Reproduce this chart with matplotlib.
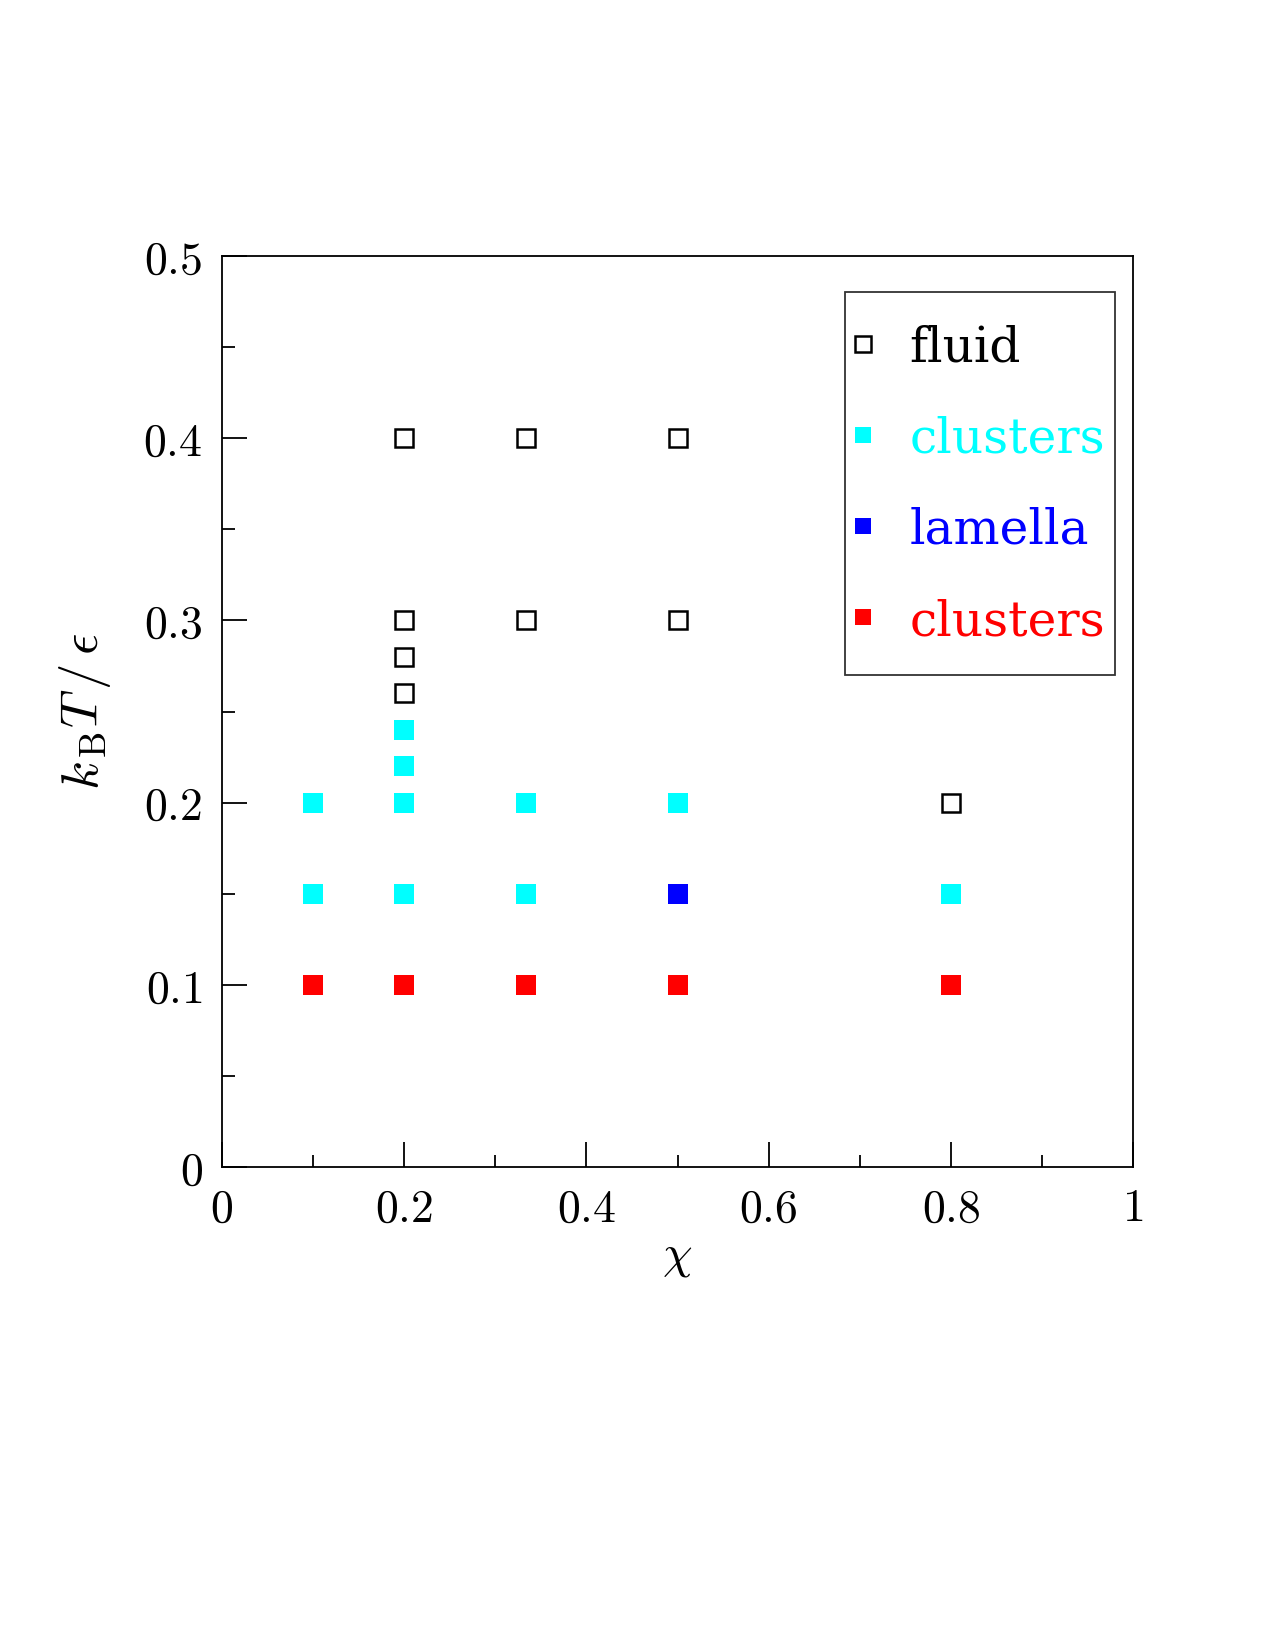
import numpy as np
import matplotlib
matplotlib.use("Agg")
import matplotlib.pyplot as plt
from matplotlib.lines import Line2D
from matplotlib.legend_handler import HandlerLine2D

plt.rcParams['mathtext.fontset'] = 'cm'

fluid_x = [0.2, 1/3, 0.5, 0.2, 1/3, 0.5, 0.2, 0.2, 0.8]
fluid_y = [0.4, 0.4, 0.4, 0.3, 0.3, 0.3, 0.28, 0.26, 0.2]
cyan_x = [0.2, 0.2, 0.1, 0.2, 1/3, 0.5, 0.1, 0.2, 1/3, 0.8]
cyan_y = [0.24, 0.22, 0.2, 0.2, 0.2, 0.2, 0.15, 0.15, 0.15, 0.15]
blue_x = [0.5]
blue_y = [0.15]
red_x = [0.1, 0.2, 1/3, 0.5, 0.8]
red_y = [0.1, 0.1, 0.1, 0.1, 0.1]
legend_labels = ["fluid", "clusters", "lamella", "clusters"]
xticks = [0, 0.2, 0.4, 0.6, 0.8, 1]
xticklabels = ["0", "0.2", "0.4", "0.6", "0.8", "1"]
yticks = [0, 0.1, 0.2, 0.3, 0.4, 0.5]
yticklabels = ["0", "0.1", "0.2", "0.3", "0.4", "0.5"]


class ShiftedHandler(HandlerLine2D):
    def __init__(self, dy, **kw):
        super().__init__(**kw)
        self.dy = dy

    def create_artists(self, legend, orig_handle, xdescent, ydescent, width, height, fontsize, trans):
        arts = super().create_artists(legend, orig_handle, xdescent, ydescent, width, height, fontsize, trans)
        for a in arts:
            a.set_ydata(np.asarray(a.get_ydata(), dtype=float) - self.dy * fontsize)
        return arts


fig = plt.figure(figsize=(12.75, 16.5), dpi=100)
ax = fig.add_axes([222/1275, 1 - 1167/1650, 911/1275, 911/1650])

ms = 15
ax.plot(fluid_x, fluid_y, 's', ms=ms - 1.5, mfc='white', mec='black', mew=1.8, ls='none', clip_on=False)
ax.plot(cyan_x, cyan_y, 's', ms=ms, mfc='cyan', mec='cyan', mew=0, ls='none')
ax.plot(blue_x, blue_y, 's', ms=ms, mfc='blue', mec='blue', mew=0, ls='none')
ax.plot(red_x, red_y, 's', ms=ms, mfc='red', mec='red', mew=0, ls='none')

ax.set_xlim(0, 1)
ax.set_ylim(0, 0.5)
ax.set_xticks(xticks)
ax.set_xticklabels(['$' + t + '$' for t in xticklabels])
ax.set_yticks(yticks)
ax.set_yticklabels(['$' + t + '$' for t in yticklabels])
ax.set_xticks([0.1, 0.3, 0.5, 0.7, 0.9], minor=True)
ax.set_yticks([0.05, 0.15, 0.25, 0.35, 0.45], minor=True)
ax.tick_params(which='both', direction='in', top=False, right=False, width=1.3, labelsize=33, colors='black')
ax.tick_params(which='major', length=18, pad=14)
ax.tick_params(which='minor', length=9)
for s in ax.spines.values():
    s.set_linewidth(1.3)

ax.set_xlabel(r'$\chi$', fontsize=34, labelpad=2)
ax.set_ylabel(r'$k_{\,\rm B}T\,/\,\epsilon$', fontsize=38, labelpad=22)

handles = [
    Line2D([], [], marker='s', ms=11, mfc='white', mec='black', mew=1.8, ls='none'),
    Line2D([], [], marker='s', ms=12, mfc='cyan', mec='cyan', mew=0, ls='none'),
    Line2D([], [], marker='s', ms=12, mfc='blue', mec='blue', mew=0, ls='none'),
    Line2D([], [], marker='s', ms=12, mfc='red', mec='red', mew=0, ls='none'),
]
leg = ax.legend(handles, legend_labels, loc='upper right', bbox_to_anchor=(1115/1275, 1 - 292/1650),
                bbox_transform=fig.transFigure, prop={'family': 'DejaVu Serif', 'size': 35},
                frameon=True, fancybox=False, edgecolor='black',
                handlelength=0.34, handleheight=2.47, handletextpad=0.8, labelspacing=0.025,
                borderpad=0.2, borderaxespad=0,
                handler_map={Line2D: ShiftedHandler(0.25)})
leg.get_frame().set_linewidth(1.3)
for t, c in zip(leg.get_texts(), ['black', 'cyan', 'blue', 'red']):
    t.set_color(c)

fig.savefig('out.png', dpi=100)
